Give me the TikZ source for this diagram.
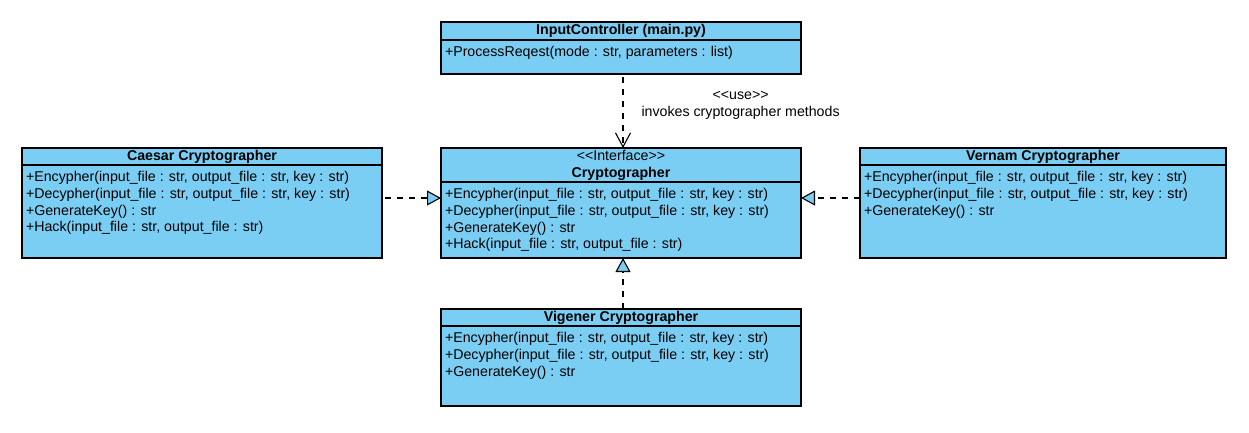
\documentclass[tikz,border=0pt]{standalone}
\usepackage{fontspec}
\setmainfont{Liberation Sans}
\usetikzlibrary{arrows.meta, positioning}
\definecolor{classfill}{RGB}{122,206,244}
\newcommand{\stereo}[1]{<\kern0pt<#1>\kern0pt>}
\newcommand{\members}[3]{\parbox[t][#1][t]{#2}{\raggedright\rule{0pt}{16.5pt}#3}}

\begin{document}
\begin{tikzpicture}[x=1pt, y=-1pt,
  font=\fontsize{14.2}{16.8}\selectfont,
  classhead/.style={draw, fill=classfill, line width=1.1pt, inner sep=0pt, outer sep=0pt,
    minimum width=360pt, minimum height=17pt, align=center},
  classbody/.style={draw, fill=classfill, line width=1.1pt, inner xsep=4pt, inner ysep=0pt, outer sep=0pt},
  realize/.style={line width=1.1pt, dash pattern=on 6pt off 6pt,
    -{Triangle[length=14pt, width=15pt, fill=classfill]}},
  uses/.style={line width=1.1pt, dash pattern=on 6pt off 6pt,
    -{Straight Barb[length=14pt, width=15pt]}}]
  \fill[white] (0,0) rectangle (1249,432);
  \useasboundingbox (0,0) rectangle (1249,432);
  % controller
  \node[classhead, minimum height=18pt] (inputHead) at (621,31) {\textbf{InputController (main.py)}};
  \node[classbody, below=0pt of inputHead] (inputBody)
    {\members{34pt}{352pt}{+ProcessReqest(mode : str, parameters : list)}};
  % interface
  \node[classhead, minimum height=34pt] (cryptHead) at (621,165)
    {\stereo{Interface}\\ \textbf{Cryptographer}};
  \node[classbody, below=0pt of cryptHead] (cryptBody)
    {\members{76pt}{352pt}{+Encypher(input\_file : str, output\_file : str, key : str)\\
      +Decypher(input\_file : str, output\_file : str, key : str)\\
      +GenerateKey() : str\\
      +Hack(input\_file : str, output\_file : str)}};
  % implementations
  \node[classhead] (caesarHead) at (202,156.5) {\textbf{Caesar Cryptographer}};
  \node[classbody, below=0pt of caesarHead] (caesarBody)
    {\members{93pt}{352pt}{+Encypher(input\_file : str, output\_file : str, key : str)\\
      +Decypher(input\_file : str, output\_file : str, key : str)\\
      +GenerateKey() : str\\
      +Hack(input\_file : str, output\_file : str)}};
  \node[classhead, minimum width=366pt] (vernamHead) at (1043,156.5) {\textbf{Vernam Cryptographer}};
  \node[classbody, below=0pt of vernamHead] (vernamBody)
    {\members{93pt}{358pt}{+Encypher(input\_file : str, output\_file : str, key : str)\\
      +Decypher(input\_file : str, output\_file : str, key : str)\\
      +GenerateKey() : str}};
  \node[classhead] (vigHead) at (621,317.5) {\textbf{Vigener Cryptographer}};
  \node[classbody, below=0pt of vigHead] (vigBody)
    {\members{80pt}{352pt}{+Encypher(input\_file : str, output\_file : str, key : str)\\
      +Decypher(input\_file : str, output\_file : str, key : str)\\
      +GenerateKey() : str}};
  % dependencies
  \draw[uses] ([xshift=2pt,yshift=-3pt]inputBody.south) -- ([xshift=2pt]cryptHead.north)
    node[pos=0.4, right=18pt, align=center, inner sep=0pt] (useLabel)
    {\stereo{use}\\invokes cryptographer methods};
  \draw[realize] ([xshift=3pt,yshift=13.5pt]caesarBody.east) -- ([yshift=22pt]cryptBody.west);
  \draw[realize] ([yshift=13.5pt]vernamBody.west) -- ([yshift=22pt]cryptBody.east);
  \draw[realize] ([xshift=2pt]vigHead.north) -- ([xshift=2pt]cryptBody.south);
\end{tikzpicture}
\end{document}
